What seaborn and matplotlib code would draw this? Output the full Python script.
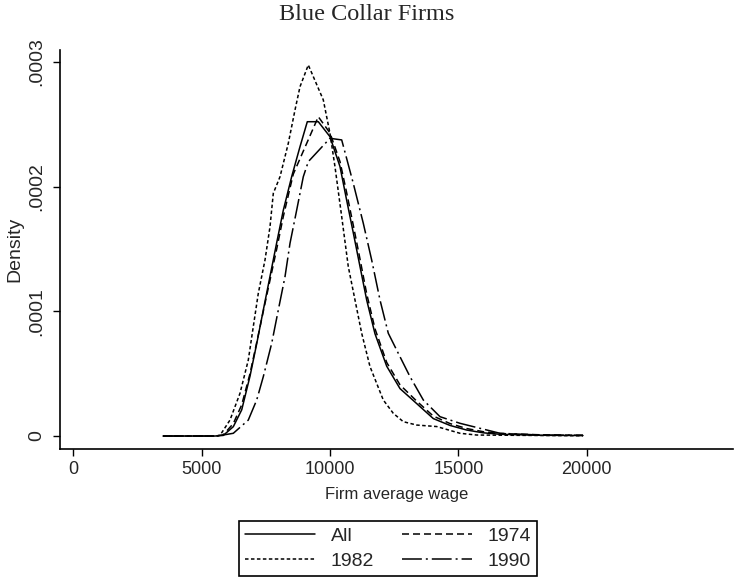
import numpy as np
import pandas as pd
import matplotlib
matplotlib.use("Agg")
import matplotlib.pyplot as plt
import seaborn as sns

# Kernel density estimates of firm average wage, blue collar firms.
# Densities are given in units of 1e-4.
DENS_UNIT = 1e-4

wage_all = [3495, 5520, 5844, 6234, 6561, 6884, 7145, 7402, 7663, 7924, 8181,
            8508, 8832, 9116, 9545, 9999, 10390, 10650, 10907, 11168, 11430,
            11753, 12209, 12728, 13378, 14024, 14675, 15325, 15960, 16622,
            18180, 19856]
dens_all = [0, 0, 0.005, 0.075, 0.21, 0.48, 0.74, 1.01, 1.28, 1.55, 1.81,
            2.08, 2.32, 2.52, 2.52, 2.40, 2.16, 1.89, 1.63, 1.36, 1.09,
            0.82, 0.56, 0.38, 0.26, 0.14, 0.085, 0.048, 0.026, 0.014,
            0.006, 0.004]

wage_1974 = [3495, 5520, 5844, 6234, 6561, 6884, 7145, 7402, 7663, 7924, 8181,
             8570, 9545, 9999, 10390, 10650, 10907, 11168, 11430, 11753, 12209,
             12728, 13378, 14024, 14675, 15325, 15960, 16622, 18180, 19856]
dens_1974 = [0, 0, 0.01, 0.10, 0.25, 0.50, 0.75, 1.00, 1.25, 1.50, 1.76,
             2.10, 2.56, 2.43, 2.20, 1.95, 1.69, 1.42, 1.14, 0.86, 0.59,
             0.41, 0.28, 0.16, 0.10, 0.06, 0.035, 0.02, 0.01, 0.005]

wage_1982 = [3495, 5520, 5714, 6104, 6493, 6817, 7012, 7207, 7468, 7663, 7792,
             8053, 8376, 8637, 8832, 9155, 9739, 9999, 10194, 10456, 10713,
             10974, 11235, 11558, 12076, 12466, 12855, 13378, 14157, 15064,
             15715, 19856]
dens_1982 = [0, 0, 0.005, 0.128, 0.342, 0.609, 0.877, 1.144, 1.411, 1.678, 1.946,
             2.079, 2.347, 2.614, 2.801, 2.975, 2.695, 2.427, 2.160, 1.759, 1.358,
             1.091, 0.824, 0.557, 0.289, 0.182, 0.115, 0.088, 0.076, 0.022,
             0.008, 0.002]

wage_1990 = [3495, 5600, 6234, 6817, 7145, 7402, 7729, 7986, 8247, 8442, 8703,
             8960, 9155, 9999, 10456, 10907, 11297, 11624, 11948, 12271, 12661,
             13117, 13635, 14286, 15064, 15843, 16622, 18180, 19856]
dens_1990 = [0, 0, 0.022, 0.128, 0.289, 0.476, 0.743, 1.010, 1.277, 1.545, 1.812,
             2.079, 2.200, 2.387, 2.374, 2.026, 1.706, 1.411, 1.091, 0.824, 0.663,
             0.476, 0.289, 0.155, 0.102, 0.062, 0.022, 0.008, 0.006]

series_labels = ["All", "1974", "1982", "1990"]
x_ticks = [0, 5000, 10000, 15000, 20000]
y_ticks = [0, 0.0001, 0.0002, 0.0003]
y_tick_labels = ["0", ".0001", ".0002", ".0003"]

frames = []
for name, w, d in zip(series_labels,
                      [wage_all, wage_1974, wage_1982, wage_1990],
                      [dens_all, dens_1974, dens_1982, dens_1990]):
    frames.append(pd.DataFrame({"wage": w,
                                "density": np.asarray(d) * DENS_UNIT,
                                "series": name}))
df = pd.concat(frames, ignore_index=True)

sns.set_style("ticks")
plt.rcParams["font.family"] = ["Liberation Sans", "DejaVu Sans"]

LW = 1.1
dash_styles = {
    "All": "",
    "1974": (4.6, 2.6),
    "1982": (2.3, 1.6),
    "1990": (13.0, 2.6, 1.3, 2.6),
}

fig = plt.figure(figsize=(7.37, 5.81), dpi=100)
ax = fig.add_axes([60 / 737, 1 - 449 / 581, 673 / 737, 399 / 581])

sns.lineplot(data=df, x="wage", y="density", style="series",
             style_order=series_labels, dashes=dash_styles,
             color="black", linewidth=LW, estimator=None, errorbar=None,
             sort=True, legend=True, ax=ax)

ax.set_xlim(-518, 25700)
ax.set_ylim(-0.0000104, 0.0003095)
ax.set_xticks(x_ticks)
ax.set_xticklabels([str(t) for t in x_ticks], fontsize=13)
ax.set_yticks(y_ticks)
ax.set_yticklabels(y_tick_labels, fontsize=14, rotation=90, va="center")

for side in ("top", "right"):
    ax.spines[side].set_visible(False)
for side in ("left", "bottom"):
    ax.spines[side].set_linewidth(1.2)
    ax.spines[side].set_color("black")
ax.tick_params(axis="both", direction="out", length=5, width=1.0, color="black")
ax.tick_params(axis="y", pad=5.5)
ax.tick_params(axis="x", pad=4)

ax.set_xlabel("Firm average wage", fontsize=12, labelpad=6)
ax.set_ylabel("Density", fontsize=14)
ax.yaxis.set_label_coords(-37 / 673, 0.5)

fig.text(0.497, 1 - 14 / 581, "Blue Collar Firms", ha="center", va="center",
         fontsize=17.5, family="Liberation Serif")

# Two-column legend below the axis title
handles, labels = ax.get_legend_handles_labels()
ax.get_legend().remove()
lookup = dict(zip(labels, handles))
order = ["All", "1982", "1974", "1990"]
leg = fig.legend([lookup[k] for k in order], order, loc="center",
                 bbox_to_anchor=(388 / 737, 1 - 548.5 / 581), ncol=2,
                 fontsize=14, frameon=True, fancybox=False, framealpha=1,
                 edgecolor="black", handlelength=3.6, handletextpad=0.8,
                 columnspacing=1.4, labelspacing=0.35, borderpad=0.35)
leg.get_frame().set_linewidth(1.2)

fig.savefig("out.png", dpi=100, facecolor="white")
